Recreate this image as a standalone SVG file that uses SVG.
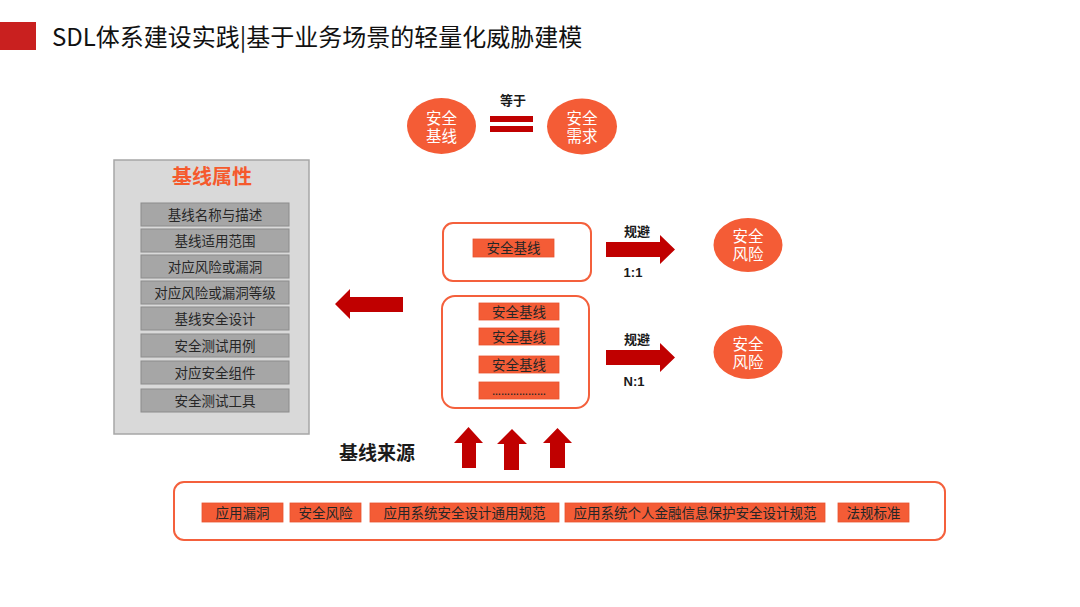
<svg xmlns="http://www.w3.org/2000/svg" width="1080" height="607" viewBox="0 0 1080 607">
<style>
text{font-family:"Liberation Sans","Noto Sans CJK SC",sans-serif;text-anchor:middle}
.cjk{font-family:"Noto Sans CJK SC",sans-serif}
.ell{fill:#f45c36}
.wt{fill:#ffffff;font-size:15.5px}
.gitem{fill:#a6a6a6;stroke:#8c8c8c;stroke-width:1}
.gt{fill:#262626;font-size:13.5px}
.ob{fill:#f45c36;stroke:#e8532f;stroke-width:0.8}
.ot{fill:#262626;font-size:13.5px}
.frame{fill:#ffffff;stroke:#f4603c;stroke-width:2}
.arr{fill:#c00000}
.bl{fill:#1a1a1a;font-size:13px;font-weight:bold}
</style>
<rect width="1080" height="607" fill="#ffffff"/>
<g id="title">
<rect x="0" y="22" width="36" height="28" fill="#c9201f"/>
<text class="cjk" x="52" y="46" style="text-anchor:start;font-size:24px" fill="#111">SDL体系建设实践|基于业务场景的轻量化威胁建模</text>
</g>
<g id="baseline-ellipse">
<ellipse class="ell" cx="441.5" cy="126" rx="34.5" ry="28"/>
<text class="wt" x="441.5" y="124">安全</text>
<text class="wt" x="441.5" y="142">基线</text>
</g>
<g id="equals">
<text class="cjk bl" x="513" y="105">等于</text>
<rect class="arr" x="490" y="116" width="43" height="6"/>
<rect class="arr" x="490" y="126" width="43" height="6"/>
</g>
<g id="requirement-ellipse">
<ellipse class="ell" cx="582" cy="126.5" rx="35" ry="28"/>
<text class="wt" x="582" y="124">安全</text>
<text class="wt" x="582" y="142">需求</text>
</g>
<g id="attributes">
<rect x="114" y="160" width="195" height="274" fill="#d9d9d9" stroke="#a6a6a6" stroke-width="1.5"/>
<text class="cjk" x="212" y="184" style="font-size:20px;font-weight:bold" fill="#f55a2d">基线属性</text>
<rect class="gitem" x="141" y="203" width="148" height="23"/>
<text class="cjk gt" x="215" y="219.5">基线名称与描述</text>
<rect class="gitem" x="141" y="229" width="148" height="23"/>
<text class="cjk gt" x="215" y="245.5">基线适用范围</text>
<rect class="gitem" x="141" y="255" width="148" height="23"/>
<text class="cjk gt" x="215" y="271.5">对应风险或漏洞</text>
<rect class="gitem" x="141" y="281" width="148" height="23"/>
<text class="cjk gt" x="215" y="297.5">对应风险或漏洞等级</text>
<rect class="gitem" x="141" y="307" width="148" height="23"/>
<text class="cjk gt" x="215" y="323.5">基线安全设计</text>
<rect class="gitem" x="141" y="334" width="148" height="23"/>
<text class="cjk gt" x="215" y="350.5">安全测试用例</text>
<rect class="gitem" x="141" y="361" width="148" height="23"/>
<text class="cjk gt" x="215" y="377.5">对应安全组件</text>
<rect class="gitem" x="141" y="389" width="148" height="23"/>
<text class="cjk gt" x="215" y="405.5">安全测试工具</text>
</g>
<g id="single-baseline">
<rect class="frame" x="443" y="223" width="148" height="58" rx="10"/>
<rect class="ob" x="473" y="239" width="81" height="18"/>
<text class="cjk ot" x="513.5" y="253">安全基线</text>
</g>
<g id="multi-baseline">
<rect class="frame" x="442" y="296" width="147" height="112" rx="13"/>
<rect class="ob" x="479" y="303" width="80" height="17"/>
<text class="cjk ot" x="519" y="316.5">安全基线</text>
<rect class="ob" x="479" y="328" width="80" height="17"/>
<text class="cjk ot" x="519" y="341.5">安全基线</text>
<rect class="ob" x="479" y="356" width="80" height="17"/>
<text class="cjk ot" x="519" y="369.5">安全基线</text>
<rect class="ob" x="479" y="382" width="80" height="17"/>
<text x="519" y="395" style="font-size:9px;font-weight:bold" fill="#262626">………………</text>
</g>
<g id="risk-1">
<ellipse class="ell" cx="748" cy="245" rx="34.5" ry="27"/>
<text class="wt" x="748" y="242">安全</text>
<text class="wt" x="748" y="260">风险</text>
</g>
<g id="risk-2">
<ellipse class="ell" cx="748" cy="352" rx="34.5" ry="27"/>
<text class="wt" x="748" y="350">安全</text>
<text class="wt" x="748" y="368">风险</text>
</g>
<g id="source-label">
<text class="cjk" x="377" y="460" style="font-size:19px;font-weight:bold" fill="#1a1a1a">基线来源</text>
</g>
<g id="sources">
<rect class="frame" x="174" y="482" width="771" height="58" rx="10"/>
<rect class="ob" x="202" y="503" width="81" height="19"/>
<text class="cjk ot" x="242.5" y="517.5">应用漏洞</text>
<rect class="ob" x="290" y="503" width="71" height="19"/>
<text class="cjk ot" x="325.5" y="517.5">安全风险</text>
<rect class="ob" x="370" y="503" width="189" height="19"/>
<text class="cjk ot" x="464.5" y="517.5">应用系统安全设计通用规范</text>
<rect class="ob" x="565" y="503" width="260" height="19"/>
<text class="cjk ot" x="695" y="517.5">应用系统个人金融信息保护安全设计规范</text>
<rect class="ob" x="838" y="503" width="71" height="19"/>
<text class="cjk ot" x="873.5" y="517.5">法规标准</text>
</g>
<g id="connectors">
<polygon class="arr" points="403,297 350,297 350,289 335,304 350,319 350,312 403,312"/>
<polygon class="arr" points="606,242 660,242 660,235 675,249.5 660,264 660,257 606,257"/>
<text class="cjk bl" x="637" y="236">规避</text>
<text class="bl" x="633" y="277">1:1</text>
<polygon class="arr" points="606,350 660,350 660,343 675,357.5 660,372 660,365 606,365"/>
<text class="cjk bl" x="637" y="344">规避</text>
<text class="bl" x="634" y="386">N:1</text>
<polygon class="arr" points="462,468 462,443 454,443 468.5,427 483,443 476,443 476,468"/>
<polygon class="arr" points="504,470 504,444 497,444 512,429 527,444 519,444 519,470"/>
<polygon class="arr" points="550,468 550,443 543,443 557.5,428 572,443 565,443 565,468"/>
</g>
</svg>
